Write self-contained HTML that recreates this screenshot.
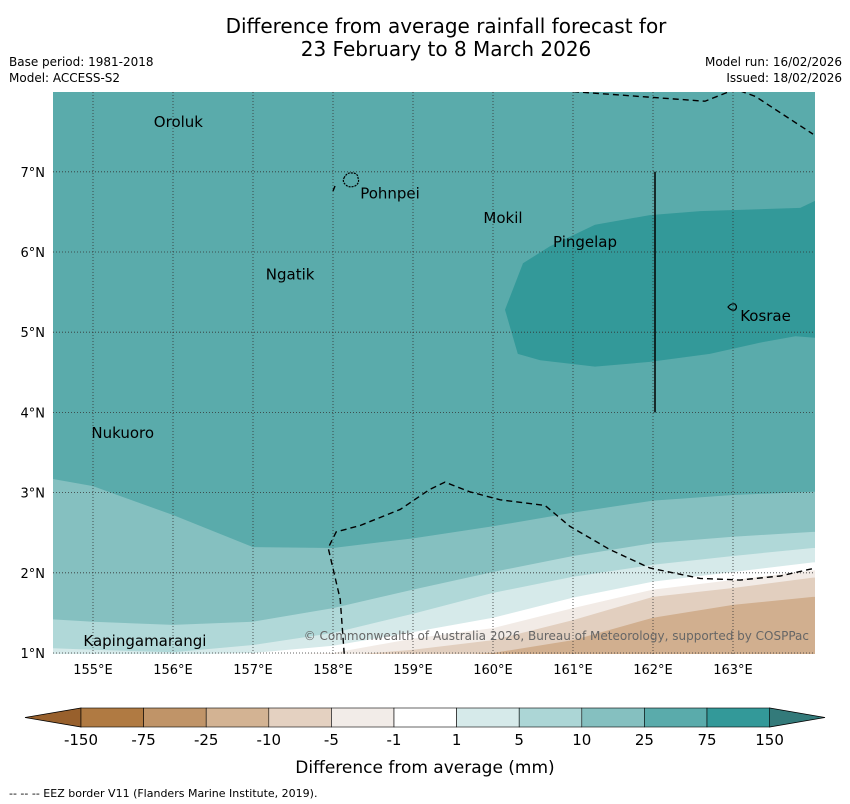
<!DOCTYPE html>
<html><head><meta charset="utf-8">
<style>
body{margin:0;background:#fff;font-family:"DejaVu Sans","Liberation Sans",sans-serif;}
svg{display:block}
</style></head>
<body>
<svg id="chart" width="850" height="804" viewBox="0 0 850 804" xmlns="http://www.w3.org/2000/svg">
<text x="446" y="33" text-anchor="middle" font-size="20">Difference from average rainfall forecast for</text>
<text x="446" y="56" text-anchor="middle" font-size="20">23 February to 8 March 2026</text>
<text x="9" y="66" font-size="12">Base period: 1981-2018</text>
<text x="9" y="82" font-size="12">Model: ACCESS-S2</text>
<text x="842" y="66" font-size="12" text-anchor="end">Model run: 16/02/2026</text>
<text x="842" y="82" font-size="12" text-anchor="end">Issued: 18/02/2026</text>
<defs><clipPath id="mapclip"><rect x="53" y="92" width="762" height="562"/></clipPath></defs>
<g id="map" clip-path="url(#mapclip)"></g>
<g id="axes"></g>
<g id="cbar"></g>
<text x="425" y="773" text-anchor="middle" font-size="17">Difference from average (mm)</text>
<text x="9" y="797" font-size="11">--  --  -- EEZ border V11 (Flanders Marine Institute, 2019).</text>
</svg>
<script>
const lons=[154.5,155,156,157,158,159,160,161,162,163,164];
const b1=[3.17,3.08,2.72,2.32,2.31,2.43,2.58,2.75,2.90,2.97,3.01];
const b2=[1.42,1.39,1.35,1.39,1.56,1.79,2.01,2.21,2.37,2.45,2.51];
const b3=[1.06,1.04,1.01,1.10,1.25,1.49,1.75,1.95,2.10,2.21,2.31];
const b4=[0.98,0.98,0.98,1.0,1.09,1.26,1.44,1.69,1.89,2.01,2.13];
const b5=[0.97,0.97,0.97,0.97,1.0,1.18,1.31,1.56,1.79,1.91,2.03];
const b6=[0.96,0.96,0.96,0.96,0.96,1.04,1.16,1.41,1.70,1.81,1.94];
const b7=[0.95,0.95,0.95,0.95,0.95,0.95,1.0,1.16,1.44,1.60,1.70];
const bandColors=["#85c0c0","#b0d8d8","#d6eaea","#ffffff","#f2ebe6","#e2cfbf","#d1af8f"];
const darkLon=[160.15,160.375,160.71,161.275,161.96,162.59,163.84,164.03,164.03,163.78,163.34,162.71,161.96,161.275,160.59,160.31];
const darkLat=[5.28,5.86,6.07,6.34,6.46,6.51,6.55,6.64,4.93,4.95,4.87,4.73,4.63,4.57,4.65,4.73];
const eezTopLon=[161.0,162.65,163.03,163.28,164.0];
const eezTopLat=[8.0,7.88,8.03,7.94,7.47];
const eezBotLon=[158.14,158.09,157.94,158.04,158.34,158.84,159.21,159.4,159.71,160.09,160.65,160.96,161.46,161.96,162.59,163.09,163.59,164.03];
const eezBotLat=[0.99,1.67,2.31,2.51,2.59,2.79,3.04,3.13,3.01,2.91,2.84,2.58,2.29,2.06,1.93,1.91,1.96,2.06];
const lonTicks=[155,156,157,158,159,160,161,162,163];
const latTicks=[1,2,3,4,5,6,7];
const places=["Oroluk","Pohnpei","Mokil","Pingelap","Ngatik","Kosrae","Nukuoro","Kapingamarangi"];
const placeLon=[155.76,158.34,159.88,160.75,157.16,163.09,154.98,154.88];
const placeLat=[7.56,6.67,6.36,6.06,5.66,5.14,3.68,1.09];
const cbarLabels=["-150","-75","-25","-10","-5","-1","1","5","10","25","75","150"];
const cbarColors=["#b07a42","#c09468","#d3b393","#e4d1c1","#f2ece8","#ffffff","#d6eaea","#acd6d6","#85c0c0","#5aabab","#339999"];

const NS="http://www.w3.org/2000/svg";
const X=lon=>93+(lon-155)*80;
const Y=lat=>653-(lat-1)*80.2;
function mk(tag,attrs,parent){const e=document.createElementNS(NS,tag);for(const k in attrs)e.setAttribute(k,attrs[k]);parent.appendChild(e);return e;}
const map=document.getElementById('map');
let bg=mk('rect',{x:53,y:92,width:762,height:562,fill:'#5aabab'},map);


const bounds=[b1,b2,b3,b4,b5,b6,b7];
bounds.forEach((b,i)=>{
  let pts=lons.map((l,j)=>X(l)+','+Y(b[j])).join(' ');
  pts+=' '+X(164.2)+','+Y(b[b.length-1])+' '+X(164.2)+','+Y(0.5)+' '+X(154.3)+','+Y(0.5)+' '+X(154.3)+','+Y(b[0]);
  const p=mk('polygon',{points:pts,fill:bandColors[i]},map);
  
  
});
let dp=mk('polygon',{points:darkLon.map((l,j)=>X(l)+','+Y(darkLat[j])).join(' '),fill:'#339999'},map);


lonTicks.forEach(l=>{const g=mk('line',{x1:X(l),x2:X(l),y1:92,y2:654,stroke:'#333',"stroke-width":0.8,"stroke-dasharray":"1,2"},map);

});
latTicks.forEach(l=>{const g=mk('line',{x1:53,x2:815,y1:Y(l),y2:Y(l),stroke:'#333',"stroke-width":0.8,"stroke-dasharray":"1,2"},map);

});
[[eezTopLon,eezTopLat],[eezBotLon,eezBotLat]].forEach(([a,b])=>{
 const e=mk('polyline',{points:a.map((l,j)=>X(l)+','+Y(b[j])).join(' '),fill:'none',stroke:'#000',"stroke-width":1.4,"stroke-dasharray":"6,4"},map);
 
 
});
let sm=mk('line',{x1:333,y1:191,x2:335,y2:186,stroke:'#000',"stroke-width":1.4},map);


let vl=mk('line',{x1:X(162.025),x2:X(162.025),y1:Y(7),y2:Y(4),stroke:'#000',"stroke-width":1.5},map);


let pi=mk('path',{d:'M344,178 q3,-6 8,-5 q6,0 6,5 q2,5 -3,8 q-6,2 -9,-1 q-4,-3 -2,-7z',fill:'none',stroke:'#000',"stroke-width":1.2,"stroke-dasharray":"2,1"},map);


let ki=mk('path',{d:'M728,307 q3,-4 7,-3 q3,3 0,6 q-4,1 -7,-3z',fill:'none',stroke:'#000',"stroke-width":1.2},map);


places.forEach((n,i)=>{
 const t=mk('text',{x:X(placeLon[i]),y:Y(placeLat[i]),"font-size":15,fill:'#000'},map);
 t.textContent=n;
 
 
});
let cp=mk('text',{x:809,y:640,"font-size":12,fill:'#666',"text-anchor":'end'},map);
cp.textContent='© Commonwealth of Australia 2026, Bureau of Meteorology, supported by COSPPac';


const axes=document.getElementById('axes');
lonTicks.forEach(l=>{const t=mk('text',{x:X(l),y:674,"font-size":13,"text-anchor":'middle'},axes);t.textContent=l+'°E';

});
latTicks.forEach(l=>{const t=mk('text',{x:45,y:Y(l)+5,"font-size":13,"text-anchor":'end'},axes);t.textContent=l+'°N';

});
const cb=document.getElementById('cbar');
const cx0=81,cw=62.6,cy=708,ch=19;
let la=mk('polygon',{points:`25,717.5 ${cx0},${cy} ${cx0},${cy+ch}`,fill:'#98602c',stroke:'#000',"stroke-width":0.8},cb);


let ra=mk('polygon',{points:`825,717.5 ${cx0+11*cw},${cy} ${cx0+11*cw},${cy+ch}`,fill:'#337a7a',stroke:'#000',"stroke-width":0.8},cb);


cbarColors.forEach((c,i)=>{const r=mk('rect',{x:cx0+i*cw,y:cy,width:cw,height:ch,fill:c,stroke:'#000',"stroke-width":0.6},cb);

});
cbarLabels.forEach((s,i)=>{const t=mk('text',{x:cx0+i*cw,y:745,"font-size":15,"text-anchor":'middle'},cb);t.textContent=s;

});
</script>
</body></html>
